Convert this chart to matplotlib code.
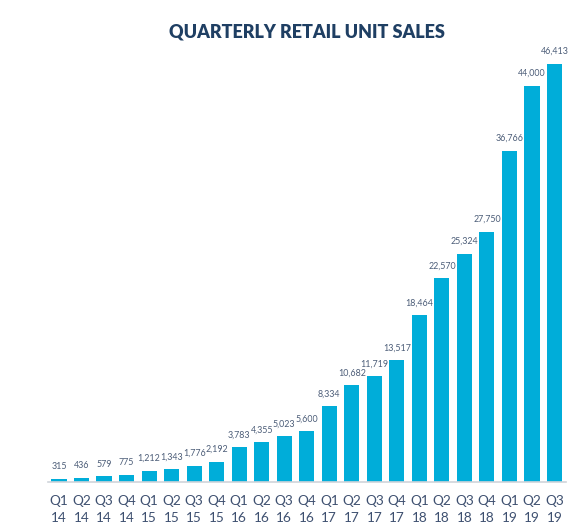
import matplotlib
matplotlib.use("Agg")
import matplotlib.pyplot as plt
import numpy as np

quarters = ["Q1", "Q2", "Q3", "Q4", "Q1", "Q2", "Q3", "Q4", "Q1", "Q2", "Q3", "Q4",
            "Q1", "Q2", "Q3", "Q4", "Q1", "Q2", "Q3", "Q4", "Q1", "Q2", "Q3"]
years = ["14", "14", "14", "14", "15", "15", "15", "15", "16", "16", "16", "16",
         "17", "17", "17", "17", "18", "18", "18", "18", "19", "19", "19"]
sales = [315, 436, 579, 775, 1212, 1343, 1776, 2192, 3783, 4355, 5023, 5600,
         8334, 10682, 11719, 13517, 18464, 22570, 25324, 27750, 36766, 44000, 46413]
title = "QUARTERLY RETAIL UNIT SALES"

W, H = 578, 531
fig = plt.figure(figsize=(W / 100, H / 100), dpi=100)
left_px, right_px = 48, 566
base_px, top_px = 481.5, 31.5
ax = fig.add_axes([left_px / W, (H - base_px) / H, (right_px - left_px) / W, (base_px - top_px) / H])

bar_color = "#00ADD9"
label_color = "#4C5D78"
tick_color = "#3E5070"

x = np.arange(len(sales))
ax.bar(x, sales, width=0.67, color=bar_color, zorder=2)
ax.set_xlim(-0.488, 22.51)
ax.set_ylim(0, 50000)

for xi, v in zip(x, sales):
    ax.annotate(f"{v:,}", (xi, v), xytext=(0, 5.5), textcoords="offset points",
                ha="center", va="bottom", fontsize=6.4, color=label_color,
                family=["Lato", "DejaVu Sans"])

for s in ["top", "right", "left"]:
    ax.spines[s].set_visible(False)
ax.spines["bottom"].set_color("#D0D4DA")
ax.spines["bottom"].set_linewidth(1.2)
ax.set_yticks([])
ax.set_xticks(x, labels=[f"{q}\n{y}" for q, y in zip(quarters, years)])
ax.tick_params(axis="x", length=0, pad=9.5, labelsize=9.8, labelcolor=tick_color)
for lbl in ax.get_xticklabels():
    lbl.set_family(["Lato", "DejaVu Sans"])
    lbl.set_linespacing(1.5)

fig.text(306.5 / W, 1 - 32 / H, title, ha="center", va="center", fontsize=13,
         fontweight="heavy", color="#1F3F63", family=["Lato", "DejaVu Sans"])

fig.savefig("out.png", dpi=100, facecolor="white")
